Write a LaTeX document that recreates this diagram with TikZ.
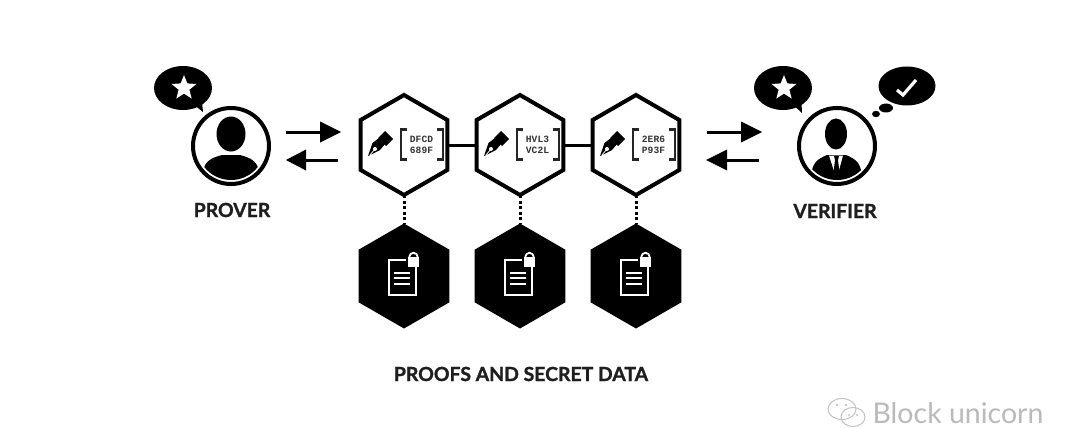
\documentclass[tikz,border=0pt]{standalone}
\usepackage{fontspec}
\setmainfont{Lato}[BoldFeatures={FakeBold=1.3}]
\newfontfamily\monof{Liberation Mono}
\usetikzlibrary{shapes.geometric,shapes.symbols}
\tikzset{
  x=1pt,y=-1pt,
  hexw/.style={regular polygon,regular polygon sides=6,shape border rotate=90,draw=black,line width=4pt,fill=white,minimum size=100pt,inner sep=0pt,outer sep=0pt},
  hexb/.style={regular polygon,regular polygon sides=6,shape border rotate=90,fill=black,minimum size=105pt,inner sep=0pt,outer sep=0pt},
  ring/.style={circle,draw=black,line width=4pt,minimum size=76pt,inner sep=0pt,outer sep=0pt},
  labeltxt/.style={font=\bfseries\fontsize{19.4}{19.4}\selectfont,text=black!88,inner sep=0pt},
  linkline/.style={line width=3pt,black},
  dotline/.style={line width=3pt,black,dash pattern=on 3pt off 2.6pt},
  arrowline/.style={line width=3pt,black},
  codetxt/.style={font=\monof\bfseries\fontsize{9.6}{10.8}\selectfont,align=center,inner sep=0pt,text=black!80},
  startxt/.style={star,star points=5,star point ratio=2.3,fill=white,minimum size=26pt,inner sep=0pt},
  pics/penmark/.style={code={
    \fill[black] (-36,11) -- (-31.5,-2) -- (-25,-7) -- (-19,-1) -- (-24,5) -- cycle;
    \fill[black] (-26,-7) -- (-19,-14) -- (-11,-6) -- (-18,1) -- cycle;
    \fill[white] (-29,4) circle (2);
    \draw[white,line width=.8pt] (-34,10) -- (-29.5,4.5);
    \draw[black!85,line width=2.6pt] (3,-15.5) -- (-3,-15.5) -- (-3,14.5) -- (3,14.5);
    \draw[black!85,line width=2.6pt] (33,-15.5) -- (39,-15.5) -- (39,14.5) -- (33,14.5);
  }},
  pics/docmark/.style={code={
    \draw[white,line width=2pt] (-15.5,-16.5) rectangle (12,18.5);
    \draw[white,line width=2pt] (-10,-3.5) -- (6,-3.5) (-10,2) -- (6,2) (-10,7.5) -- (6,7.5);
    \fill[black] (2,-27) rectangle (18,-9);
    \draw[white,line width=1.8pt] (5.3,-19) arc[start angle=180,end angle=360,radius=4.2];
    \fill[white] (4,-19) rectangle (15,-9.5);
  }}
}
\begin{document}
\begin{tikzpicture}
\useasboundingbox (0,0) rectangle (1080,428);
\fill[white] (0,0) rectangle (1080,428);
% hexagons
\foreach \n/\cx in {1/404,2/520,3/636}{
  \node[hexw] (h\n) at (\cx,145) {};
  \node[hexb] (k\n) at (\cx,276) {};
}
\draw[linkline] (h1.east) -- (h2.west);
\draw[linkline] (h2.east) -- (h3.west);
\foreach \n in {1,2,3}{ \draw[dotline] (h\n.south) -- (k\n.north); }
\foreach \cx/\a/\b in {404/DFCD/689F,520/HVL3/VC2L,636/2ER6/P93F}{
  \pic at (\cx,145) {penmark};
  \node[codetxt] (c\a) at (\cx+17.5,144.5) {\a\\\b};
  \pic at (\cx,276) {docmark};
}
% prover
\node[ring] (prover) at (231,146) {};
\begin{scope}
  \clip (231,146) circle (34);
  \fill[black] (231,134) ellipse (14.5 and 17.5);
  \fill[black] (202,180) .. controls (202,160) and (212,158) .. (222,155) -- (240,155) .. controls (250,158) and (260,160) .. (260,180) -- cycle;
\end{scope}
\coordinate (bp) at (183,88);
\fill[black] (bp) ellipse (29 and 22);
\fill[black] (188,100) -- (203,112) -- (201,92) -- cycle;
\node[startxt] (sp) at (184,88) {};
\node[labeltxt] (lp) at (232,210) {PROVER};
% verifier
\node[ring] (verifier) at (837,146) {};
\begin{scope}
  \clip (837,146) circle (34);
  \fill[black] (836,134) ellipse (11 and 15.5);
  \fill[black] (811,180) .. controls (811,162) and (818,159) .. (827,155) -- (846,155) .. controls (855,159) and (862,162) .. (862,180) -- cycle;
  \fill[white] (829,155.5) -- (843,155.5) -- (838,174) -- (835,174) -- cycle;
  \fill[black] (834,156) -- (839,156) -- (838,160) -- (839.5,172) -- (836.5,176) -- (833.5,172) -- (835,160) -- cycle;
\end{scope}
\coordinate (bv) at (783,88);
\fill[black] (bv) ellipse (29 and 22);
\fill[black] (788,100) -- (802,113) -- (801,92) -- cycle;
\node[startxt] (sv) at (784,88) {};
\fill[black] (907,86) ellipse (28.5 and 19.5);
\draw[white,line width=3.2pt] (897,90) -- (903,95) -- (916,80);
\fill[black] (886,108) ellipse (7 and 4.5);
\fill[black] (876,114) ellipse (4 and 3.2);
\node[labeltxt] (lv) at (835,211) {VERIFIER};
% arrows
\foreach \nm/\sx/\ex/\bx/\yy in {a1/286/341/320/132,a2/338/286/306/160,a3/707/762/741/132,a4/759/706/727/160}{
  \coordinate (\nm s) at (\sx,\yy);
  \coordinate (\nm b) at (\bx,\yy);
  \coordinate (\nm e) at (\ex,\yy);
  \draw[arrowline] (\nm s) -- (\nm b);
  \fill[black] (\bx,\yy-10.5) -- (\nm e) -- (\bx,\yy+10.5) -- cycle;
}
\node[labeltxt] (lb) at (521,374) {PROOFS AND SECRET DATA};
% watermark
\node[inner sep=0pt,text=black!27,font=\fontsize{28.5}{28.5}\selectfont] (wm) at (958,413) {Block unicorn};
\draw[black!24,line width=1pt] (842,409) ellipse (14 and 10.5);
\draw[black!24,line width=1pt] (853,417) ellipse (12 and 9.5);
\fill[black!24] (837,405) circle (1.3) (846,405) circle (1.3) (849,415) circle (1.2) (857,415) circle (1.2);
\end{tikzpicture}
\end{document}
